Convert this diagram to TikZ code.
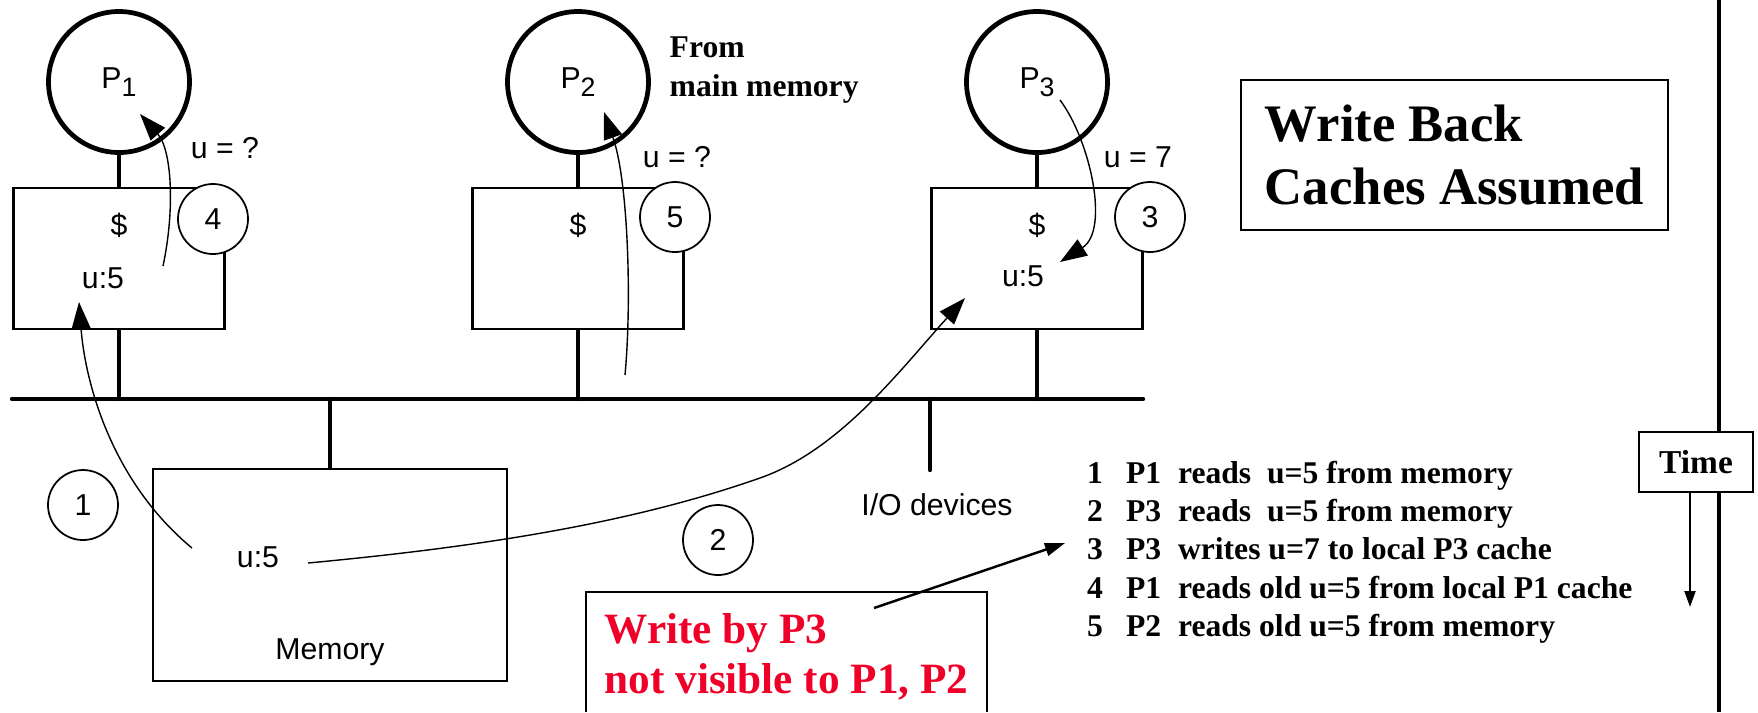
\documentclass[tikz,border=0pt]{standalone}
\usepackage{fontspec}
\setmainfont{Liberation Sans}
\newfontfamily\timesfam{Liberation Serif}
\usepackage{xcolor}
\usepackage{tikz}
\usetikzlibrary{positioning, arrows.meta}

\definecolor{alertred}{RGB}{240,0,40}
\newcommand\lblsize{\fontsize{8.6pt}{10pt}\selectfont}
\newcommand\evsize{\timesfam\bfseries\fontsize{9pt}{11.1pt}\selectfont}
\newcommand\titlesize{\timesfam\bfseries\fontsize{15pt}{17.9pt}\selectfont}
\newcommand\notesize{\timesfam\bfseries\fontsize{12.3pt}{14.2pt}\selectfont}
\newcommand\evrow[3]{\makebox[11.1pt][l]{#1}\makebox[14.8pt][l]{#2}#3}
\newcommand\procname[1]{P\raisebox{-2.3pt}{\fontsize{7.6pt}{8pt}\selectfont #1}}

\begin{document}
\begin{tikzpicture}[every node/.style={font=\lblsize},
    proc/.style={draw, circle, line width=1.35pt, minimum size=1.41cm, inner sep=0pt},
    cachebox/.style={draw, line width=0.6pt, minimum width=2.11cm, minimum height=1.41cm},
    stepno/.style={draw, circle, fill=white, line width=0.5pt, minimum size=0.70cm, inner sep=0pt},
    busline/.style={line width=1.25pt, line cap=round},
    flow/.style={line width=0.4pt, -{Triangle[length=2.7mm, width=1.9mm]}},
    evline/.style={font=\evsize, inner sep=0pt, outer sep=0pt, text height=6.5pt, text depth=2pt, anchor=base west}]
    \useasboundingbox (0,0) rectangle (17.58,-7.12);

    % processors and their caches
    \node[proc] (p1) at (1.19,-0.82) {\procname{1}};
    \node[proc] (p2) at (5.78,-0.82) {\procname{2}};
    \node[proc] (p3) at (10.37,-0.82) {\procname{3}};
    \node[cachebox, below=0.32cm of p1] (c1) {};
    \node[cachebox, below=0.32cm of p2] (c2) {};
    \node[cachebox, below=0.32cm of p3] (c3) {};
    \draw[busline] (p1) -- (c1);
    \draw[busline] (p2) -- (c2);
    \draw[busline] (p3) -- (c3);
    \node at ([yshift=0.33cm]c1.center) {\$};
    \node at ([yshift=0.33cm]c2.center) {\$};
    \node at ([yshift=0.33cm]c3.center) {\$};
    \node (v1) at ([xshift=-0.16cm, yshift=-0.20cm]c1.center) {u:5};
    \node (v3) at ([xshift=-0.14cm, yshift=-0.18cm]c3.center) {u:5};
    \node (q1) at (2.25,-1.48) {u = ?};
    \node (q2) at (6.77,-1.57) {u = ?};
    \node (q3) at (11.38,-1.57) {u = 7};

    % bus, memory, i/o
    \coordinate (busL) at (0.12,-3.99);
    \coordinate (busR) at (11.43,-3.99);
    \draw[busline] (busL) -- (busR);
    \foreach \c in {c1,c2,c3}
        \draw[busline] (\c) -- (\c |- busL);
    \node[cachebox, minimum width=3.54cm, minimum height=2.12cm] (mem) at (3.30,-5.75) {};
    \draw[busline] (mem) -- (mem |- busL);
    \node (mv) at (2.58,-5.57) {u:5};
    \node (memname) at (3.30,-6.52) {Memory};
    \coordinate (iostub) at (9.30,-4.70);
    \draw[busline] (iostub |- busL) -- (iostub);
    \node (io) at (9.37,-5.05) {I/O devices};

    % numbered steps
    \node[stepno] (s1) at (0.83,-5.05) {1};
    \node[stepno] (s2) at (7.18,-5.40) {2};
    \node[stepno] (s3) at (11.50,-2.17) {3};
    \node[stepno] (s4) at (2.13,-2.19) {4};
    \node[stepno] (s5) at (6.75,-2.17) {5};

    % data movements
    \coordinate (a1s) at (1.92,-5.48);
    \coordinate (a1e) at (0.79,-3.02);
    \draw[flow] (a1s) .. controls (1.10,-4.80) and (0.85,-3.80) .. (a1e);
    \coordinate (a2s) at (3.08,-5.63);
    \coordinate (a2e) at (9.65,-2.98);
    \draw[flow] (a2s) .. controls (5.00,-5.45) and (6.40,-5.20) .. (7.60,-4.78)
        .. controls (8.40,-4.50) and (9.00,-3.70) .. (a2e);
    \coordinate (a3s) at (10.60,-1.00);
    \coordinate (a3e) at (10.60,-2.62);
    \draw[flow] (a3s) .. controls (10.90,-1.40) and (11.10,-2.30) .. (a3e);
    \coordinate (a4s) at (1.63,-2.66);
    \coordinate (a4e) at (1.40,-1.14);
    \draw[flow] (a4s) .. controls (1.75,-2.10) and (1.72,-1.50) .. (a4e);
    \coordinate (a5s) at (6.25,-3.75);
    \coordinate (a5e) at (6.04,-1.12);
    \draw[flow] (a5s) .. controls (6.32,-3.00) and (6.28,-1.80) .. (a5e);

    \node[font=\evsize, align=left, anchor=west, inner sep=0pt] (src) at (6.69,-0.70) {From\\main memory};

    % title and note
    \node[draw, line width=0.6pt, minimum width=4.27cm, minimum height=1.50cm, align=left, font=\titlesize] (title) at (14.545,-1.55) {Write Back\\Caches Assumed};
    \node[font=\notesize, text=alertred, align=left, outer sep=0pt, minimum width=4.01cm, minimum height=1.30cm] (note) at (7.865,-6.57) {Write by P3\\not visible to P1, P2};
    \coordinate (axbot) at (17.19,-7.12);
    \draw[line width=0.6pt] (note.north west |- axbot) |- (note.north east) -- (note.north east |- axbot);

    % event list
    \node[evline] (ev1) at (10.87,-4.83) {\evrow{1}{P1}{reads\ \ u=5 from memory}};
    \node[evline, below=0.086cm of ev1.south west, anchor=north west] (ev2) {\evrow{2}{P3}{reads\ \ u=5 from memory}};
    \node[evline, below=0.086cm of ev2.south west, anchor=north west] (ev3) {\evrow{3}{P3}{writes u=7 to local P3 cache}};
    \node[evline, below=0.086cm of ev3.south west, anchor=north west] (ev4) {\evrow{4}{P1}{reads old u=5 from local P1 cache}};
    \node[evline, below=0.086cm of ev4.south west, anchor=north west] (ev5) {\evrow{5}{P2}{reads old u=5 from memory}};
    \coordinate (notefrom) at (8.74,-6.08);
    \draw[line width=0.7pt, -{Triangle[length=2mm, width=1.3mm]}] (notefrom) -- ([shift={(-0.22,0.09)}]ev3.west);

    % time axis
    \coordinate (axtop) at (17.19,0);
    \draw[line width=1.25pt] (axtop) -- (axbot);
    \node[draw, fill=white, line width=0.6pt, minimum width=1.14cm, minimum height=0.60cm, font=\timesfam\bfseries\fontsize{9.5pt}{11pt}\selectfont] (timebox) at (16.96,-4.62) {Time};
    \coordinate (timeend) at (16.90,-6.07);
    \draw[line width=0.6pt, -{Triangle[length=1.6mm, width=1.1mm]}] (timebox.south -| timeend) -- (timeend);
\end{tikzpicture}
\end{document}
